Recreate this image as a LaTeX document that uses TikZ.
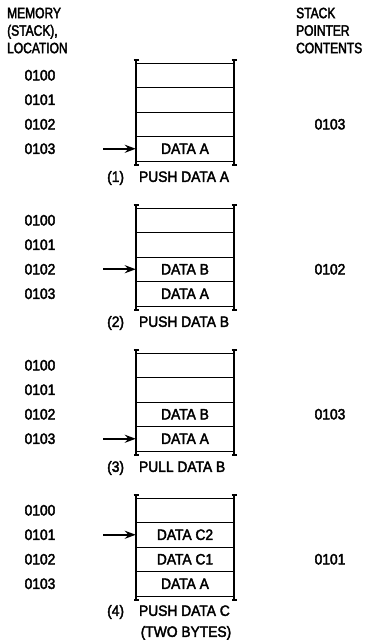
\documentclass[tikz,border=0pt]{standalone}
\usepackage{fontspec}
\setmainfont{Liberation Sans}[FakeStretch=0.92, FakeBold=2.5]
\newfontfamily\headfont{Liberation Sans}[FakeStretch=0.8, FakeBold=2.5]
\usetikzlibrary{arrows.meta}

\tikzset{
    rail/.style={line width=1.8pt, {Bar[width=5pt]}-{Bar[width=5pt]}},
    rung/.style={line width=0.8pt},
    cell/.style={minimum width=98pt, minimum height=24.5pt, inner sep=0pt},
    loc/.style={inner sep=0pt},
    head/.style={font=\headfont\fontsize{15}{17.5}\selectfont,
                 align=left, anchor=north west, inner sep=0pt},
    ptr/.style={line width=1.8pt, -{Stealth[length=11pt, width=8pt]}},
}

\begin{document}
\begin{tikzpicture}[x=1pt, y=-1pt, font=\fontsize{15}{17.5}\selectfont]
        \useasboundingbox (0,0) rectangle (371,640);

        \node[head] (memhead) at (7,7.5)   {MEMORY\\(STACK),\\LOCATION};
        \node[head] (sphead)  at (296,7.5) {STACK\\POINTER\\CONTENTS};

        % (1) push data A
        \draw[rail] (136,59) -- (136,166);
        \draw[rail] (234,59) -- (234,166);
        \draw[rung] (136,63)    -- (234,63)    (136,87.5)  -- (234,87.5)
                    (136,112)   -- (234,112)   (136,136.5) -- (234,136.5)
                    (136,161)   -- (234,161);
        \node[loc] (l100a) at (40,75.25)  {0100};
        \node[loc] (l101a) at (40,99.75)  {0101};
        \node[loc] (l102a) at (40,124.25) {0102};
        \node[loc] (l103a) at (40,148.75) {0103};
        \node[cell] (dataA1) at (185,148.75) {DATA A};
        \coordinate (p1) at (103,148.75);
        \draw[ptr] (p1) -- (dataA1);
        \node[loc] (sp1) at (330,124.25) {0103};
        \node[loc, anchor=west] (cap1) at (107,178) {(1)\hspace{15pt}PUSH DATA A};

        % (2) push data B
        \begin{scope}[yshift=-145pt]
            \draw[rail] (136,59) -- (136,166);
            \draw[rail] (234,59) -- (234,166);
            \draw[rung] (136,63)    -- (234,63)    (136,87.5)  -- (234,87.5)
                        (136,112)   -- (234,112)   (136,136.5) -- (234,136.5)
                        (136,161)   -- (234,161);
            \node[loc] (l100b) at (40,75.25)  {0100};
            \node[loc] (l101b) at (40,99.75)  {0101};
            \node[loc] (l102b) at (40,124.25) {0102};
            \node[loc] (l103b) at (40,148.75) {0103};
            \node[cell] (dataB2) at (185,124.25) {DATA B};
            \node[cell] (dataA2) at (185,148.75) {DATA A};
            \coordinate (p2) at (103,124.25);
            \draw[ptr] (p2) -- (dataB2);
            \node[loc] (sp2) at (330,124.25) {0102};
            \node[loc, anchor=west] (cap2) at (107,178) {(2)\hspace{15pt}PUSH DATA B};
        \end{scope}

        % (3) pull data B
        \begin{scope}[yshift=-290pt]
            \draw[rail] (136,59) -- (136,166);
            \draw[rail] (234,59) -- (234,166);
            \draw[rung] (136,63)    -- (234,63)    (136,87.5)  -- (234,87.5)
                        (136,112)   -- (234,112)   (136,136.5) -- (234,136.5)
                        (136,161)   -- (234,161);
            \node[loc] (l100c) at (40,75.25)  {0100};
            \node[loc] (l101c) at (40,99.75)  {0101};
            \node[loc] (l102c) at (40,124.25) {0102};
            \node[loc] (l103c) at (40,148.75) {0103};
            \node[cell] (dataB3) at (185,124.25) {DATA B};
            \node[cell] (dataA3) at (185,148.75) {DATA A};
            \coordinate (p3) at (103,148.75);
            \draw[ptr] (p3) -- (dataA3);
            \node[loc] (sp3) at (330,124.25) {0103};
            \node[loc, anchor=west] (cap3) at (107,178) {(3)\hspace{15pt}PULL DATA B};
        \end{scope}

        % (4) push data C, two bytes
        \begin{scope}[yshift=-435pt]
            \draw[rail] (136,59) -- (136,166);
            \draw[rail] (234,59) -- (234,166);
            \draw[rung] (136,63)    -- (234,63)    (136,87.5)  -- (234,87.5)
                        (136,112)   -- (234,112)   (136,136.5) -- (234,136.5)
                        (136,161)   -- (234,161);
            \node[loc] (l100d) at (40,75.25)  {0100};
            \node[loc] (l101d) at (40,99.75)  {0101};
            \node[loc] (l102d) at (40,124.25) {0102};
            \node[loc] (l103d) at (40,148.75) {0103};
            \node[cell] (dataC2) at (185,99.75)  {DATA C2};
            \node[cell] (dataC1) at (185,124.25) {DATA C1};
            \node[cell] (dataA4) at (185,148.75) {DATA A};
            \coordinate (p4) at (103,99.75);
            \draw[ptr] (p4) -- (dataC2);
            \node[loc] (sp4) at (330,124.25) {0101};
            \node[loc, anchor=west] (cap4) at (107,177) {(4)\hspace{15pt}PUSH DATA C};
            \node[loc] (cap4b) at (186,198) {(TWO BYTES)};
        \end{scope}
    \end{tikzpicture}
\end{document}
